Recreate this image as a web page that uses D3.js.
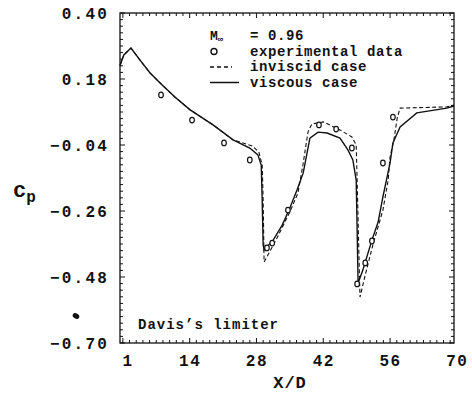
<!DOCTYPE html>
<html lang="en">
<head>
<meta charset="UTF-8">
<title>Cp vs X/D</title>
<script src="https://d3js.org/d3.v7.min.js"></script>
<style>
  body { margin: 0; background: #fff; }
  text { font-family: "Liberation Mono", "DejaVu Sans Mono", monospace; font-weight: bold; fill: #111; }
</style>
</head>
<body>
<svg width="472" height="395"></svg>
<script>
// viscous case (solid)
const viscX = [-0.6, 0.2, 1.7, 3.6, 5.7, 7.8, 10.9, 14.1, 18.9, 23.1, 26.6, 28.3, 29.0, 29.2, 29.4, 29.6, 31.5, 33.4, 35.0, 36.5, 37.8, 39.2, 40.9, 42.8, 45.5, 47.2, 48.2, 48.9, 49.1, 49.3, 50.3, 52.2, 53.5, 54.5, 56.0, 56.6, 58.1, 61.6, 67.9, 69.4];
const viscY = [0.225, 0.26, 0.283, 0.243, 0.20, 0.167, 0.12, 0.077, 0.027, -0.023, -0.05, -0.073, -0.107, -0.223, -0.373, -0.39, -0.357, -0.307, -0.25, -0.19, -0.133, -0.017, 0.003, 0.0, -0.017, -0.057, -0.09, -0.157, -0.323, -0.50, -0.457, -0.357, -0.297, -0.213, -0.10, -0.033, 0.02, 0.067, 0.083, 0.09];

// inviscid case (dashed)
const invX = [-0.6, 0.2, 1.7, 3.6, 5.7, 7.8, 10.9, 14.1, 18.9, 23.1, 27.1, 28.5, 29.2, 29.4, 29.6, 30.4, 32.3, 35.0, 36.7, 37.8, 38.8, 39.6, 42.0, 45.5, 48.0, 48.9, 49.1, 49.5, 49.7, 50.8, 52.4, 54.5, 55.6, 56.0, 56.8, 57.5, 58.1, 67.9, 69.4];
const invY = [0.225, 0.26, 0.283, 0.243, 0.20, 0.167, 0.12, 0.077, 0.027, -0.023, -0.043, -0.063, -0.107, -0.223, -0.43, -0.407, -0.35, -0.263, -0.20, -0.10, 0.003, 0.03, 0.037, 0.01, -0.013, -0.04, -0.157, -0.423, -0.547, -0.473, -0.373, -0.257, -0.157, -0.08, -0.023, 0.05, 0.083, 0.087, 0.093];

// experimental data (circles)
const expX = [8.0, 14.5, 21.2, 26.6, 30.2, 31.3, 34.6, 41.1, 44.7, 48.0, 49.1, 50.8, 52.2, 54.5, 56.6];
const expY = [0.127, 0.043, -0.033, -0.09, -0.383, -0.367, -0.257, 0.027, 0.013, -0.05, -0.503, -0.433, -0.36, -0.10, 0.053];

const xTicks = [1, 14, 28, 42, 56, 70];
const yTicks = [0.40, 0.18, -0.04, -0.26, -0.48, -0.70];
const legendRows = ["= 0.96", "experimental data", "inviscid case", "viscous case"];

const svg = d3.select("svg");
const pl = 120, pr = 454, pt = 13, pb = 343;

const x = d3.scaleLinear().domain([-0.6, 69.4]).range([pl, pr]);
const y = d3.scaleLinear().domain([-0.70, 0.40]).range([pb, pt]);

// frame
svg.append("rect")
    .attr("x", pl).attr("y", pt)
    .attr("width", pr - pl).attr("height", pb - pt)
    .attr("fill", "none").attr("stroke", "#111").attr("stroke-width", 1.3);

// minor + major ticks, inward on all four sides
const xMinor = d3.range(0, 70, 1.4).filter(v => v > -0.6 && v < 69.4);
const yMinor = d3.range(0, 51).map(i => -0.70 + i * 0.022);
const tk = svg.append("g").attr("stroke", "#111").attr("stroke-width", 1);
xMinor.forEach((v, i) => {
    const len = i % 10 === 0 ? 5 : 3;
    tk.append("line").attr("x1", x(v)).attr("x2", x(v)).attr("y1", pb).attr("y2", pb - len);
    tk.append("line").attr("x1", x(v)).attr("x2", x(v)).attr("y1", pt).attr("y2", pt + len);
});
yMinor.forEach((v, i) => {
    const len = i % 10 === 0 ? 5 : 3;
    tk.append("line").attr("y1", y(v)).attr("y2", y(v)).attr("x1", pl).attr("x2", pl + len);
    tk.append("line").attr("y1", y(v)).attr("y2", y(v)).attr("x1", pr).attr("x2", pr - len);
});

// axis labels
const xAxis = svg.append("g")
    .attr("transform", `translate(0,${pb})`)
    .call(d3.axisBottom(x).tickValues(xTicks).tickSize(0).tickPadding(12).tickFormat(d3.format("d")));
xAxis.select(".domain").remove();
xAxis.selectAll("text").style("font-size", "16px").style("letter-spacing", "1.5px")
    .style("font-family", "'Liberation Mono', monospace").style("font-weight", "bold").attr("fill", "#111");

const yAxis = svg.append("g")
    .attr("transform", `translate(${pl},0)`)
    .call(d3.axisLeft(y).tickValues(yTicks).tickSize(0).tickPadding(11).tickFormat(d3.format(".2f")));
yAxis.select(".domain").remove();
yAxis.selectAll("text").style("font-size", "16px").style("letter-spacing", "2.2px")
    .style("font-family", "'Liberation Mono', monospace").style("font-weight", "bold").attr("fill", "#111");

svg.append("text").attr("x", (pl + pr) / 2 + 3).attr("y", 388)
    .attr("text-anchor", "middle").style("font-size", "17px").style("letter-spacing", "1px").text("X/D");

const cp = svg.append("text").attr("x", 13).attr("y", 197).style("font-size", "22px");
cp.append("tspan").text("c");
cp.append("tspan").attr("dy", 5).style("font-size", "16px").text("p");

// curves
const line = d3.line().x(d => x(d[0])).y(d => y(d[1]));
svg.append("path").datum(d3.zip(invX, invY))
    .attr("d", line).attr("fill", "none").attr("stroke", "#111")
    .attr("stroke-width", 1.1).attr("stroke-dasharray", "4,2.5");
svg.append("path").datum(d3.zip(viscX, viscY))
    .attr("d", line).attr("fill", "none").attr("stroke", "#111").attr("stroke-width", 1.4);

svg.append("g").selectAll("ellipse").data(d3.zip(expX, expY)).join("ellipse")
    .attr("cx", d => x(d[0])).attr("cy", d => y(d[1]))
    .attr("rx", 2.3).attr("ry", 2.8)
    .attr("fill", "#fff").attr("stroke", "#111").attr("stroke-width", 1.2);

// legend
const lg = svg.append("g").attr("transform", "translate(210,0)");
const rowY = [40, 55.5, 71, 86.5];
const m = lg.append("text").attr("x", 0).attr("y", rowY[0]).style("font-size", "13px");
m.append("tspan").text("M");
m.append("tspan").attr("dy", 2).style("font-size", "9px").text("\u221e");
lg.append("ellipse").attr("cx", 4).attr("cy", rowY[1] - 4).attr("rx", 3).attr("ry", 3)
    .attr("fill", "none").attr("stroke", "#111").attr("stroke-width", 1.4);
lg.append("line").attr("x1", 0).attr("x2", 22).attr("y1", rowY[2] - 4).attr("y2", rowY[2] - 4)
    .attr("stroke", "#111").attr("stroke-width", 1.3).attr("stroke-dasharray", "4,3");
lg.append("line").attr("x1", 0).attr("x2", 29).attr("y1", rowY[3] - 4).attr("y2", rowY[3] - 4)
    .attr("stroke", "#111").attr("stroke-width", 1.5);
lg.selectAll("text.row").data(legendRows).join("text").attr("class", "row")
    .attr("x", 40).attr("y", (d, i) => rowY[i])
    .style("font-size", "14px").style("letter-spacing", "0.6px").text(d => d);

svg.append("text").attr("x", 138).attr("y", 329)
    .style("font-size", "14px").style("letter-spacing", "1px").text("Davis\u2019s limiter");

// stray ink spot left of the axis
svg.append("ellipse").attr("cx", pl - 44).attr("cy", y(-0.61))
    .attr("rx", 3.5).attr("ry", 2.6).attr("transform", `rotate(30,${pl - 44},${y(-0.61)})`)
    .attr("fill", "#111");
</script>
</body>
</html>
